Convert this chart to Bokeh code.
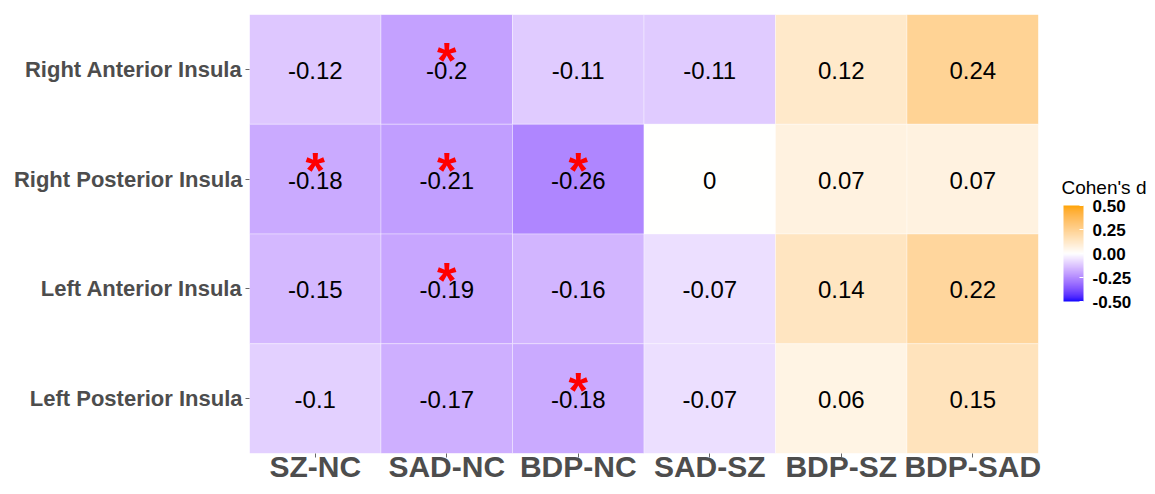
import numpy as np
from bokeh.plotting import figure
from bokeh.layouts import row
from bokeh.models import (ColumnDataSource, FactorRange, Range1d, LinearColorMapper, ColorBar,
                          FixedTicker, PrintfTickFormatter)
from bokeh.transform import transform
from bokeh.core.properties import value
from bokeh.embed import file_html
from bokeh.resources import INLINE

# ---------------- data ----------------
comparisons = ["SZ-NC", "SAD-NC", "BDP-NC", "SAD-SZ", "BDP-SZ", "BDP-SAD"]
regions = ["Right Anterior Insula", "Right Posterior Insula",
           "Left Anterior Insula", "Left Posterior Insula"]
right_anterior = [-0.12, -0.2, -0.11, -0.11, 0.12, 0.24]
right_posterior = [-0.18, -0.21, -0.26, 0, 0.07, 0.07]
left_anterior = [-0.15, -0.19, -0.16, -0.07, 0.14, 0.22]
left_posterior = [-0.1, -0.17, -0.18, -0.07, 0.06, 0.15]
significant = [("SAD-NC", "Right Anterior Insula"),
               ("SZ-NC", "Right Posterior Insula"),
               ("SAD-NC", "Right Posterior Insula"),
               ("BDP-NC", "Right Posterior Insula"),
               ("SAD-NC", "Left Anterior Insula"),
               ("BDP-NC", "Left Posterior Insula")]
legend_ticks = [-0.5, -0.25, 0, 0.25, 0.5]
legend_title = "Cohen's d"

# ---------------- colour scale (Lab gradient blue-white-orange) ----------------
def _hex_to_lab(h):
    rgb = np.array([int(h[i:i + 2], 16) / 255 for i in (1, 3, 5)])
    lin = np.where(rgb <= 0.04045, rgb / 12.92, ((rgb + 0.055) / 1.055) ** 2.4)
    M = np.array([[0.4124, 0.3576, 0.1805], [0.2126, 0.7152, 0.0722], [0.0193, 0.1192, 0.9505]])
    xyz = M @ lin / np.array([0.95047, 1.0, 1.08883])
    f = np.where(xyz > 0.008856, np.cbrt(xyz), 7.787 * xyz + 16 / 116)
    return np.array([116 * f[1] - 16, 500 * (f[0] - f[1]), 200 * (f[1] - f[2])])

def _lab_to_hex(lab):
    L, a, b = lab
    fy = (L + 16) / 116
    f = np.array([fy + a / 500, fy, fy - b / 200])
    xyz = np.where(f ** 3 > 0.008856, f ** 3, (f - 16 / 116) / 7.787) * np.array([0.95047, 1.0, 1.08883])
    Mi = np.array([[3.2406, -1.5372, -0.4986], [-0.9689, 1.8758, 0.0415], [0.0557, -0.2040, 1.0570]])
    lin = np.clip(Mi @ xyz, 0, 1)
    rgb = np.where(lin <= 0.0031308, 12.92 * lin, 1.055 * lin ** (1 / 2.4) - 0.055)
    return "#" + "".join(f"{int(round(c * 255)):02x}" for c in np.clip(rgb, 0, 1))

low, mid, high = _hex_to_lab("#0000ff"), _hex_to_lab("#ffffff"), _hex_to_lab("#ffa500")
palette = []
for t in np.linspace(-1, 1, 256):
    end = low if t < 0 else high
    palette.append(_lab_to_hex(mid + abs(t) * (end - mid)))
mapper = LinearColorMapper(palette=palette, low=-0.5, high=0.5)

# ---------------- sources ----------------
rows = [right_anterior, right_posterior, left_anterior, left_posterior]
xs, ys, vals, labels = [], [], [], []
for reg, r in zip(regions, rows):
    for comp, v in zip(comparisons, r):
        xs.append(comp)
        ys.append(reg)
        vals.append(v)
        labels.append(f"{v:g}")
src = ColumnDataSource(dict(x=xs, y=ys, v=vals, label=labels))
sig_src = ColumnDataSource(dict(x=[s[0] for s in significant], y=[s[1] for s in significant],
                                label=["*"] * len(significant)))

FONT = "Liberation Sans"
H = 486
TOP, BOTTOM = 14, 33
p = figure(width=1045, height=H, output_backend="svg", toolbar_location=None,
           x_range=FactorRange(factors=comparisons),
           y_range=FactorRange(factors=regions[::-1]),
           min_border_left=249, min_border_top=TOP, min_border_bottom=24, min_border_right=7)

p.rect(x="x", y="y", width=1, height=1, source=src,
       fill_color=transform("v", mapper), line_color="white", line_alpha=0.35, line_width=1)
p.text(x="x", y="y", text="label", source=src, text_align="center", text_baseline="middle",
       text_font=value(FONT), text_font_size="24px", text_color="black", y_offset=1)
p.text(x="x", y="y", text="label", source=sig_src, text_align="center", text_baseline="middle",
       text_font=value(FONT), text_font_size="50px", text_font_style="bold",
       text_color="#ff0000", y_offset=-8)

p.grid.visible = False
p.outline_line_color = None
for ax in (p.xaxis, p.yaxis):
    ax.axis_line_color = None
    ax.major_tick_line_color = "#666666"
    ax.major_tick_out = 4
    ax.major_tick_in = 0
    ax.major_label_text_font = FONT
    ax.major_label_text_font_style = "bold"
    ax.major_label_text_color = "#4d4d4d"
p.xaxis.major_label_text_font_size = "30px"
p.xaxis.major_label_standoff = -8
p.yaxis.major_label_text_font_size = "22px"
p.yaxis.major_label_standoff = 3

# ---------------- legend panel ----------------
LW = 102
FH = H - TOP - BOTTOM
leg = figure(width=LW, height=H, output_backend="svg", toolbar_location=None,
             x_range=Range1d(0, LW), y_range=Range1d(0, FH),
             min_border_left=0, min_border_right=0, min_border_top=TOP, min_border_bottom=BOTTOM)
leg.axis.visible = False
leg.grid.visible = False
leg.outline_line_color = None
leg.text(x=[16], y=[FH + TOP - 187], text=[legend_title], text_font=value(FONT),
         text_font_size="19px", text_color="black", text_baseline="middle", text_align="left")
cb = ColorBar(color_mapper=mapper, width=20, height=96, location=(18, FH + TOP - 301),
              ticker=FixedTicker(ticks=legend_ticks), formatter=PrintfTickFormatter(format="%.2f"),
              major_label_text_font=FONT, major_label_text_font_size="17px",
              major_label_text_font_style="bold", major_label_text_color="black",
              label_standoff=9, major_tick_line_color="white", major_tick_in=4, major_tick_out=0,
              bar_line_color=None, background_fill_color=None, border_line_color=None,
              padding=0)
leg.add_layout(cb, "center")

layout = row(p, leg)
open("out.html", "w").write(file_html(layout, INLINE))
